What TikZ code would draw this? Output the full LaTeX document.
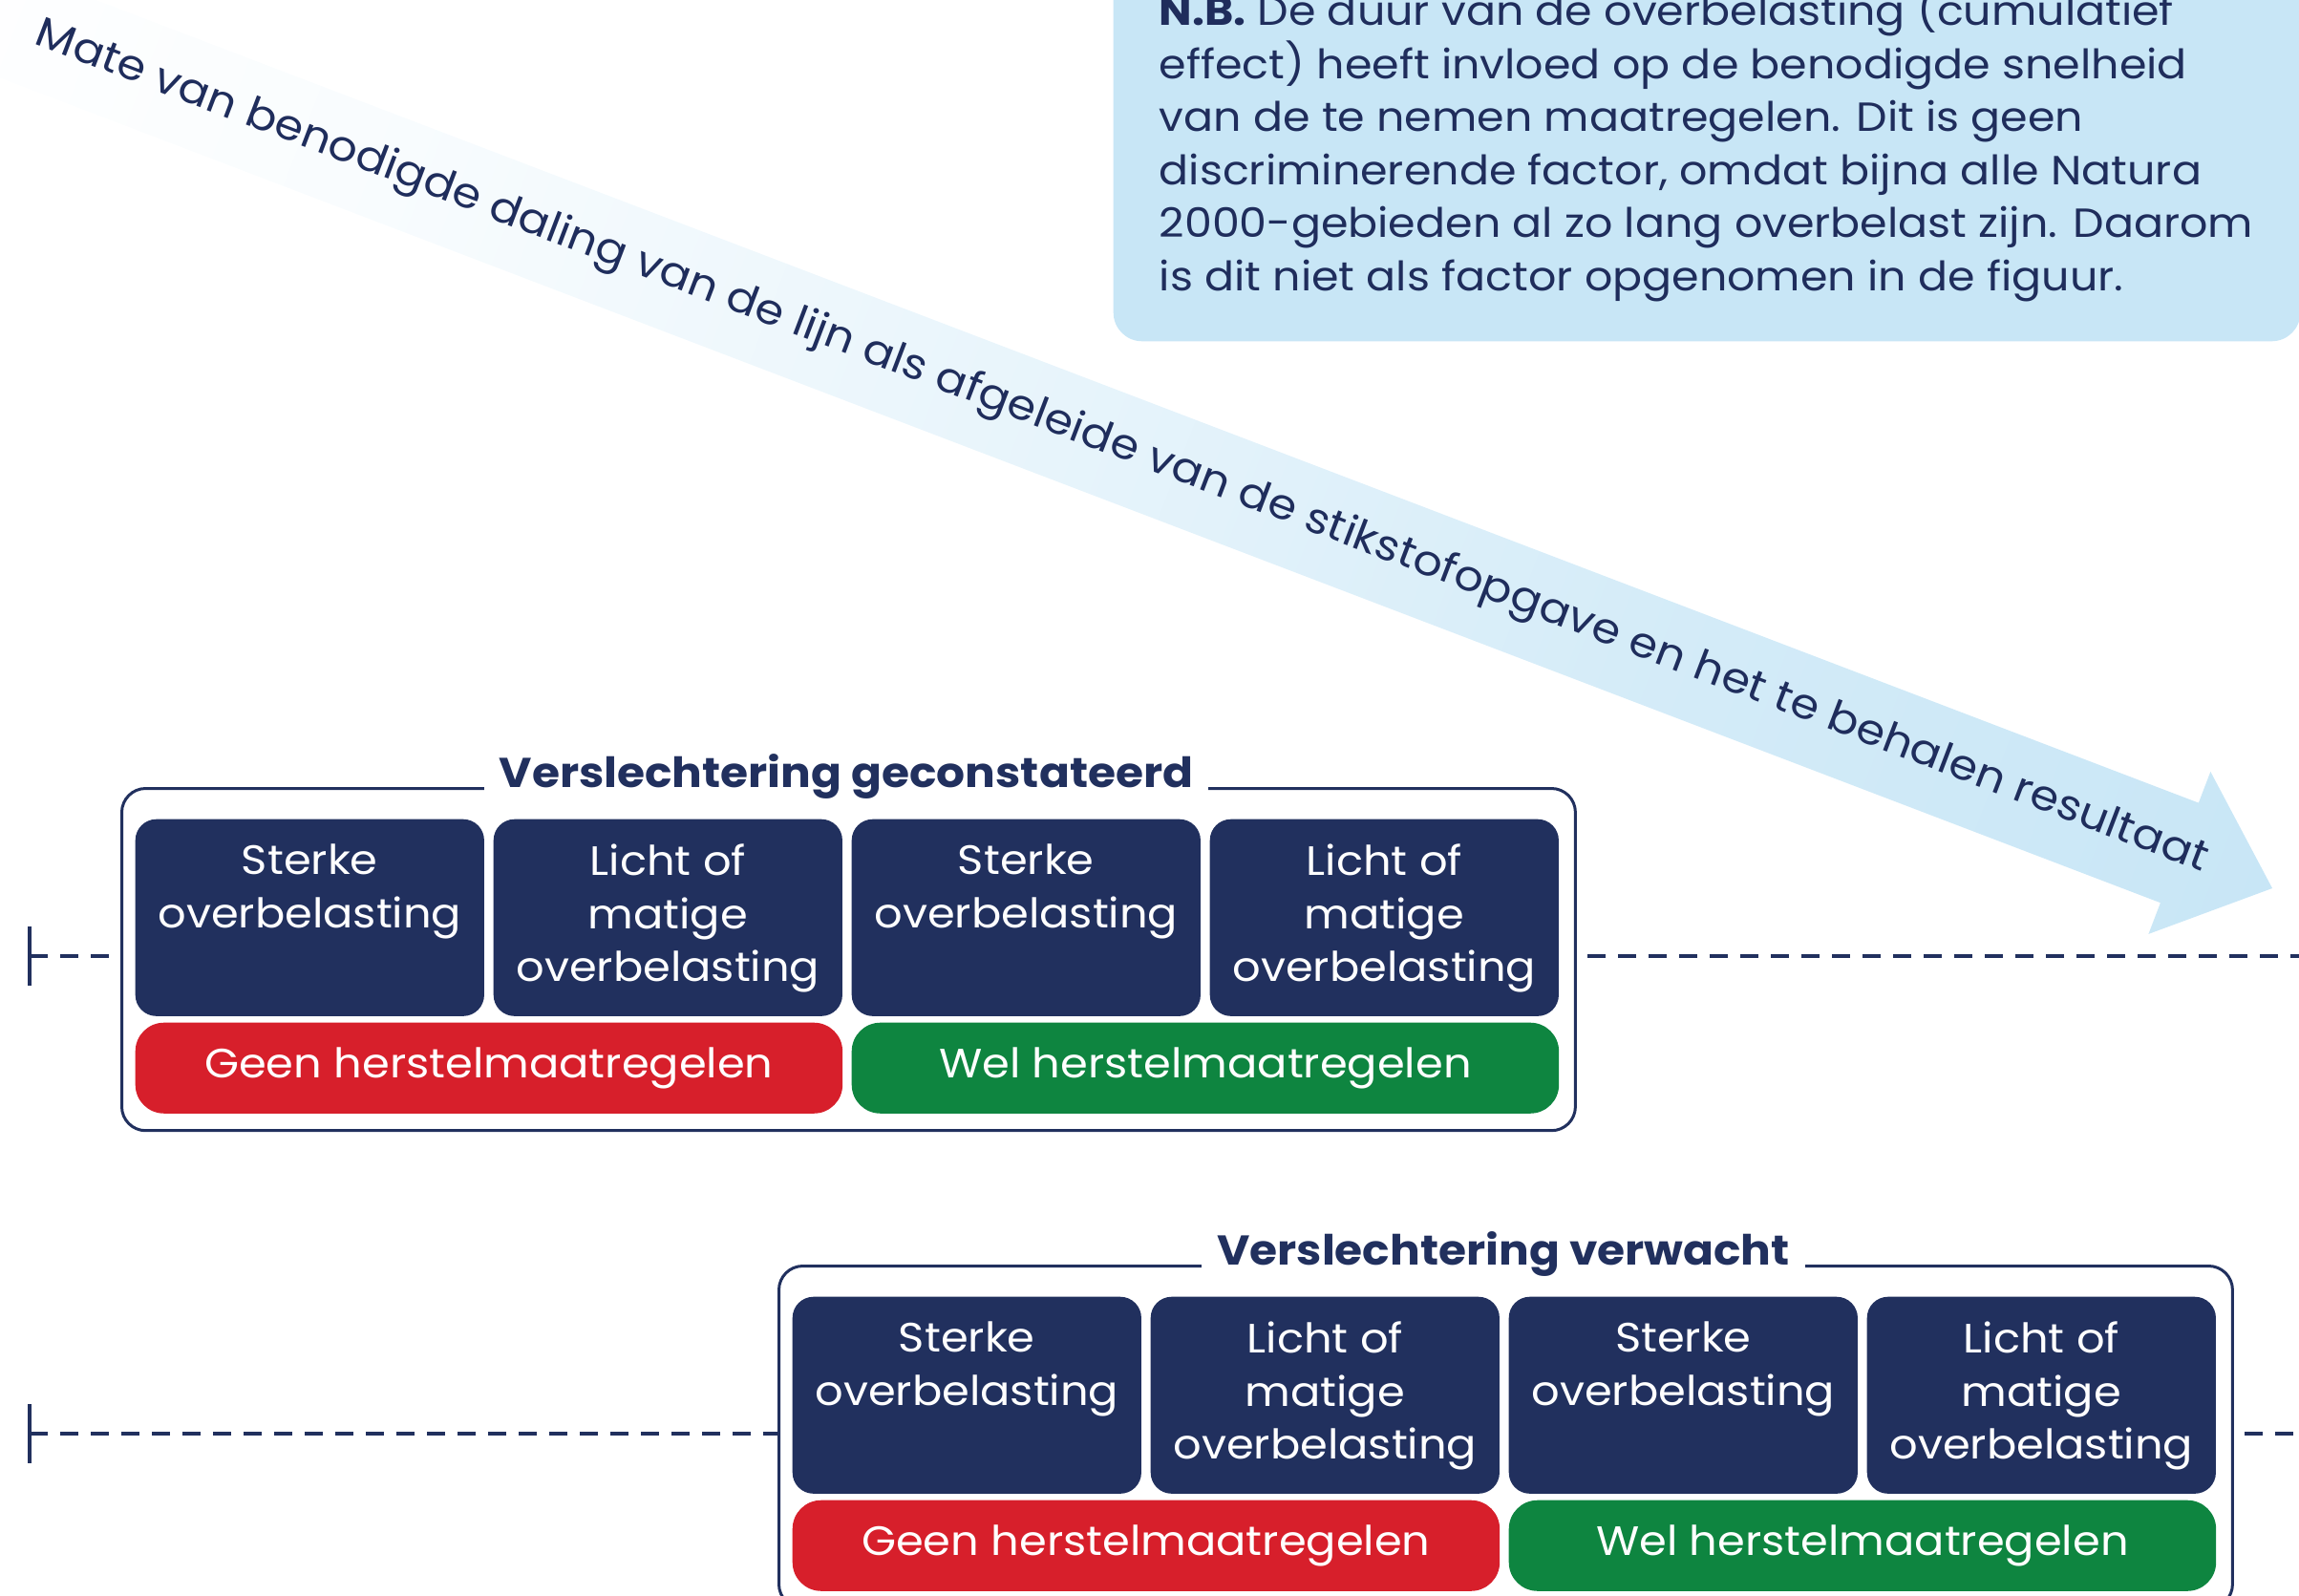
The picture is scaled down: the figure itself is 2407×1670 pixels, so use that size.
\documentclass[tikz,border=0pt]{standalone}
\usepackage{fontspec}
\setmainfont{Poppins}[FakeStretch=1.08]
\usetikzlibrary{calc}
\definecolor{navy}{RGB}{33,48,94}
\definecolor{textnavy}{RGB}{31,45,92}
\definecolor{barred}{RGB}{215,31,43}
\definecolor{bargreen}{RGB}{14,133,64}
\definecolor{nbblue}{RGB}{200,230,246}
\definecolor{arrowblue}{RGB}{200,230,246}
\colorlet{arrowA}{arrowblue!12!white}
\colorlet{arrowB}{arrowblue!45!white}
\colorlet{arrowC}{arrowblue!78!white}
\pgfdeclarehorizontalshading{arrowshade}{100bp}{color(0bp)=(white); color(25bp)=(white); color(35bp)=(arrowA); color(50bp)=(arrowB); color(62bp)=(arrowC); color(75bp)=(arrowblue); color(100bp)=(arrowblue)}
\newcommand{\mynbfont}{\fontsize{12.1}{15.8}\selectfont}
\newcommand{\mybxfont}{\fontsize{12.2}{15.8}\selectfont}
\newcommand{\myttlfont}{\fontsize{12.4}{15}\selectfont\bfseries}
\newcommand{\myarrfont}{\fontsize{12.55}{14}\selectfont}
\tikzset{
  navyfill/.style={fill=navy, rounded corners=0.22cm, minimum width=3.65cm, minimum height=2.06cm, anchor=north west, inner sep=0pt},
  boxlabel/.style={text=white, align=center, anchor=north, font=\mybxfont, inner sep=0pt},
  redbar/.style={fill=barred, rounded corners=0.3cm, minimum width=7.40cm, minimum height=0.95cm, anchor=north west, text=white, font=\mybxfont, inner sep=0pt},
  greenbar/.style={redbar, fill=bargreen},
  groupbox/.style={draw=navy, line width=0.03cm, rounded corners=0.25cm, minimum width=15.21cm, minimum height=3.58cm, anchor=north west, inner sep=0pt},
  grouptitle/.style={fill=white, text=navy, font=\myttlfont, anchor=base, inner xsep=0.16cm, inner ysep=0.06cm},
  dashline/.style={draw=navy, line width=0.045cm, dash pattern=on 0.19cm off 0.13cm},
  tickline/.style={draw=navy, line width=0.04cm},
  nbline/.style={text=textnavy, font=\mynbfont, anchor=base west, inner sep=0pt},
  arrowlabel/.style={text=textnavy, font=\myarrfont, rotate=-20.9, inner sep=0pt},
}
\newcommand{\grp}[2]{%
  \node[groupbox] (#1) at (126,824) {};
  \node[navyfill] (#1s1) at (141,857) {};
  \node[navyfill] (#1s2) at (516,857) {};
  \node[navyfill] (#1s3) at (891,857) {};
  \node[navyfill] (#1s4) at (1266,857) {};
  \node[boxlabel] (#1t1) at ([yshift=-0.26cm]#1s1.north) {Sterke\\overbelasting};
  \node[boxlabel] (#1t2) at ([yshift=-0.26cm]#1s2.north) {Licht of\\matige\\overbelasting};
  \node[boxlabel] (#1t3) at ([yshift=-0.26cm]#1s3.north) {Sterke\\overbelasting};
  \node[boxlabel] (#1t4) at ([yshift=-0.26cm]#1s4.north) {Licht of\\matige\\overbelasting};
  \node[redbar] (#1r) at (141,1070) {Geen herstelmaatregelen};
  \node[greenbar] (#1g) at (891,1070) {Wel herstelmaatregelen};
  \node[grouptitle] (#1title) at (886,824) {#2};
}
\begin{document}
\begin{tikzpicture}[x=0.01cm, y=-0.01cm]
\useasboundingbox (0,0) rectangle (2407,1670);
% big gradient arrow
\coordinate (tip) at (2379,930);
\begin{scope}[transform canvas={shift={(2379,930)}, rotate=-20.9}]
  \shade[shading=arrowshade] (0,0) -- (-104,-91) -- (-104,-56) -- (-2650,-56) -- (-2650,56) -- (-104,56) -- (-104,91) -- cycle;
\end{scope}
\node[arrowlabel] (arrowtext) at (1174,469) {Mate van benodigde daling van de lijn als afgeleide van de stikstofopgave en het te behalen resultaat};
% N.B. box
\node[fill=nbblue, rounded corners=0.3cm, minimum width=12.42cm, minimum height=4.6cm, anchor=south west, inner sep=0pt] (nb) at (1165,358) {};
\node[nbline] (nb1) at (1213,27) {\textbf{N.B.} De duur van de overbelasting (cumulatief};
\node[nbline] (nb2) at (1213,82.5) {effect) heeft invloed op de benodigde snelheid};
\node[nbline] (nb3) at (1213,138) {van de te nemen maatregelen. Dit is geen};
\node[nbline] (nb4) at (1213,193.5) {discriminerende factor, omdat bijna alle Natura};
\node[nbline] (nb5) at (1213,249) {2000-gebieden al zo lang overbelast zijn. Daarom};
\node[nbline] (nb6) at (1213,304.5) {is dit niet als factor opgenomen in de figuur.};
% groups
\grp{A}{Verslechtering geconstateerd}
\begin{scope}[shift={(688,500)}]
  \grp{B}{Verslechtering verwacht}
\end{scope}
% dashed time lines
\coordinate (tA) at (31,1001);
\coordinate (eA) at (2407,1001);
\coordinate (tB) at (31,1501);
\coordinate (eB) at (2407,1501);
\draw[tickline] ([yshift=0.31cm]tA) -- ([yshift=-0.31cm]tA);
\draw[tickline] ([yshift=0.31cm]tB) -- ([yshift=-0.31cm]tB);
\draw[dashline] (tA) -- (tA -| A.west);
\draw[dashline] ([xshift=0.11cm]A.east |- eA) -- (eA);
\draw[dashline] (tB) -- (tB -| B.west);
\draw[dashline] ([xshift=0.11cm]B.east |- eB) -- (eB);
\end{tikzpicture}
\end{document}
